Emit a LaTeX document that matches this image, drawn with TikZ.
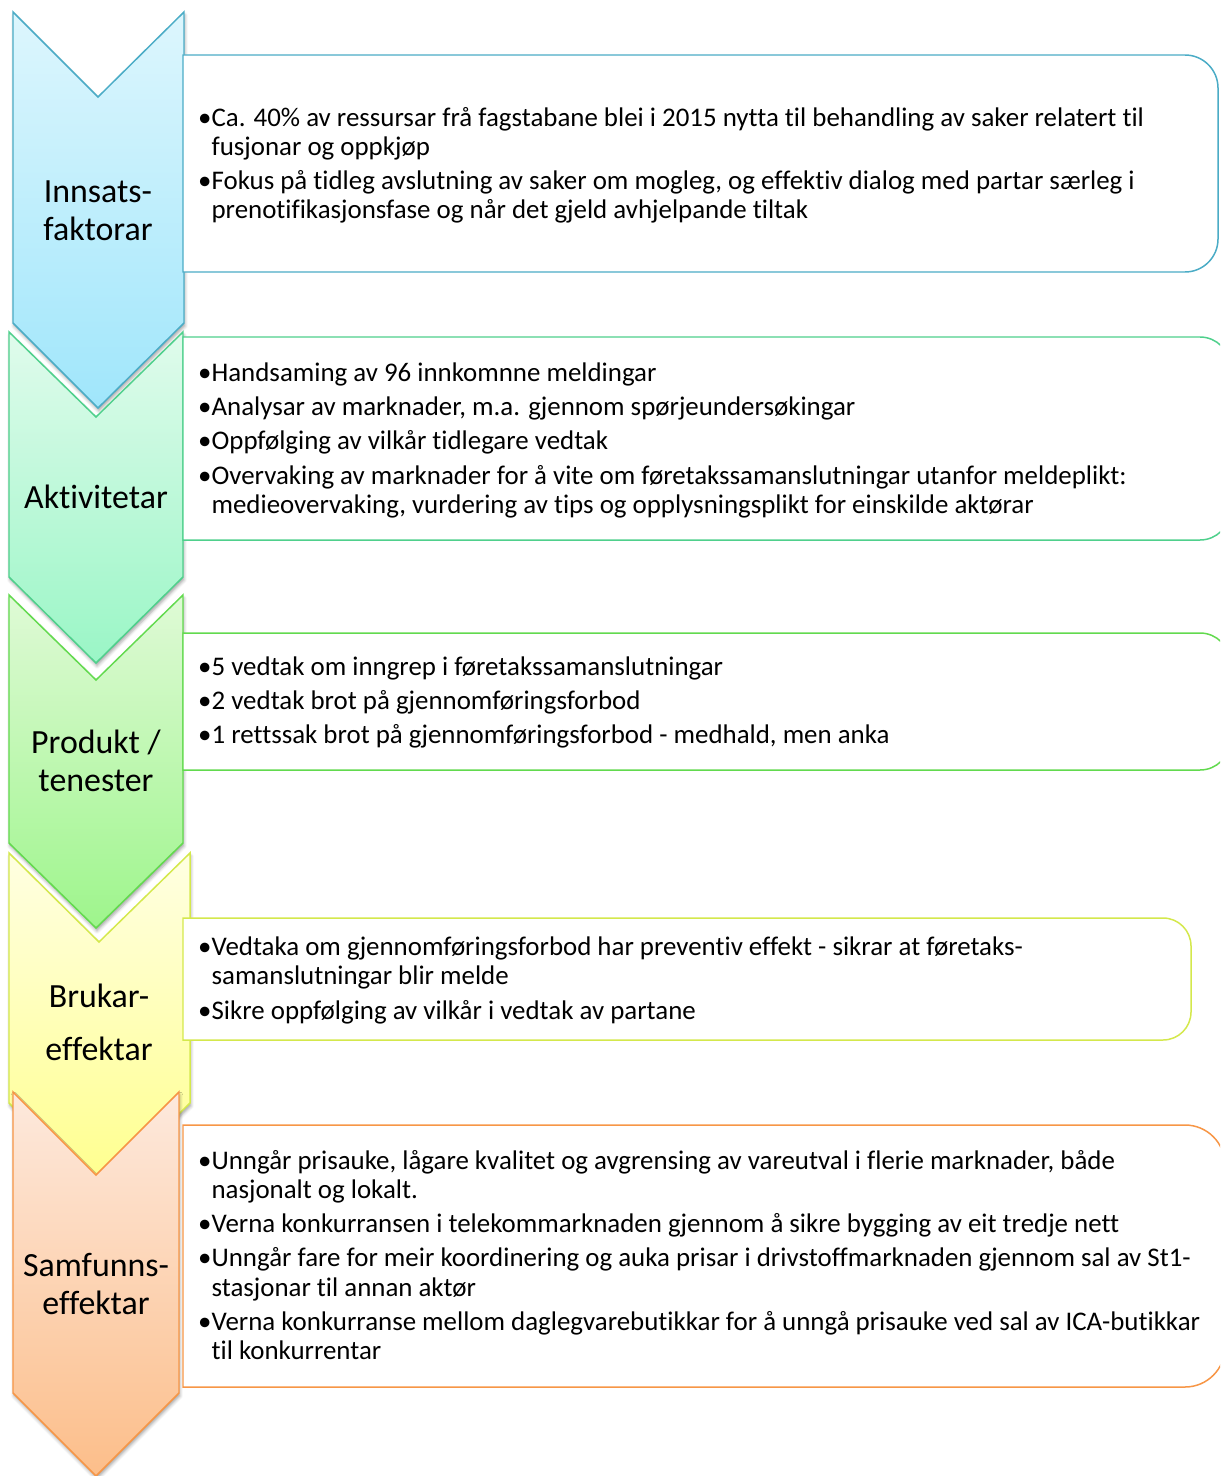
\documentclass[tikz,border=0pt]{standalone}
\usepackage{fontspec}
\setmainfont{Carlito}[Ligatures=NoCommon]
\usetikzlibrary{shadows.blur}
\definecolor{blueB}{HTML}{4BACC6}\definecolor{blueT}{HTML}{DDF6FD}\definecolor{blueL}{HTML}{A0E6FB}
\definecolor{tealB}{HTML}{4FD08C}\definecolor{tealT}{HTML}{E0FBEC}\definecolor{tealL}{HTML}{9AF6C6}
\definecolor{grnB}{HTML}{62DA4E}\definecolor{grnT}{HTML}{DFFAD6}\definecolor{grnL}{HTML}{9EF58C}
\definecolor{yelB}{HTML}{D4E84C}\definecolor{yelT}{HTML}{FFFFE2}\definecolor{yelL}{HTML}{FFFF8C}
\definecolor{orgB}{HTML}{F79646}\definecolor{orgT}{HTML}{FDE9DD}\definecolor{orgL}{HTML}{FCBE8A}
\tikzset{
  chev/.style n args={3}{draw=#1, line width=1.5pt, top color=#2, bottom color=#3,
     blur shadow={shadow xshift=1pt, shadow yshift=-3pt, shadow blur radius=3pt, shadow opacity=35}},
  tbox/.style={draw=#1, line width=1.5pt, fill=white},
  ln/.style={anchor=base west, inner sep=0pt, font=\fontsize{27}{29}\selectfont},
  lab/.style={align=center, inner sep=0pt, font=\fontsize{34}{38}\selectfont}
}
\newcommand\bul{\textbullet}
\newcommand\ind{\phantom{\textbullet}}
\begin{document}
\begin{tikzpicture}[x=1bp,y=-1bp]
\useasboundingbox (0,0) rectangle (1220,1476);
\clip (0,0) rectangle (1220,1476);
% chevrons
\path[chev={blueB}{blueT}{blueL}] (13,12) -- (98,97) -- (184,12) -- (184,323) -- (98,408) -- (13,323) -- cycle;
\path[chev={tealB}{tealT}{tealL}] (9,332) -- (96,417) -- (183,332) -- (183,577) -- (96,663) -- (9,577) -- cycle;
\path[chev={grnB}{grnT}{grnL}] (9,595) -- (96,680) -- (183,595) -- (183,843) -- (96,928) -- (9,843) -- cycle;
\path[chev={yelB}{yelT}{yelL}] (9,853) -- (99,942) -- (190,853) -- (190,1103) -- (99,1192) -- (9,1103) -- cycle;
\path[chev={orgB}{orgT}{orgL}] (13,1092) -- (96,1175) -- (179,1092) -- (179,1393) -- (96,1476) -- (13,1393) -- cycle;
% text boxes
\draw[tbox=blueB] (183,55) -- (1185,55) arc[start angle=-90,end angle=0,radius=33] -- (1218,239) arc[start angle=0,end angle=90,radius=33] -- (183,272) -- cycle;
\draw[tbox=tealB] (183,337) -- (1200,337) arc[start angle=-90,end angle=0,radius=30] -- (1230,510) arc[start angle=0,end angle=90,radius=30] -- (183,540) -- cycle;
\draw[tbox=grnB] (183,633) -- (1200,633) arc[start angle=-90,end angle=0,radius=30] -- (1230,740) arc[start angle=0,end angle=90,radius=30] -- (183,770) -- cycle;
\draw[tbox=yelB] (183,918) -- (1163,918) arc[start angle=-90,end angle=0,radius=28] -- (1191,1012) arc[start angle=0,end angle=90,radius=28] -- (183,1040) -- cycle;
\draw[tbox=orgB] (183,1125) -- (1185,1125) arc[start angle=-90,end angle=0,radius=40] -- (1225,1347) arc[start angle=0,end angle=90,radius=40] -- (183,1387) -- cycle;
% labels
\node[lab] (l1) at (98,211) {Innsats-\\faktorar};
\node[lab] (l2) at (96,497) {Aktivitetar};
\node[lab] (l3) at (96,761) {Produkt /\\tenester};
\node[lab, font=\fontsize{34}{53}\selectfont] (l4) at (99,1022) {Brukar-\\effektar};
\node[lab] (l5) at (96,1284) {Samfunns-\\effektar};
% box 1
\node[ln] (a1) at (198,127) {\bul Ca. 40\% av ressursar frå fagstabane blei i 2015 nytta til behandling av saker relatert til};
\node[ln] (a2) at (198,156) {\ind fusjonar og oppkjøp};
\node[ln] (a3) at (198,190) {\bul Fokus på tidleg avslutning av saker om mogleg, og effektiv dialog med partar særleg i};
\node[ln] (a4) at (198,219) {\ind prenotifikasjonsfase og når det gjeld avhjelpande tiltak};
% box 2
\node[ln] (b1) at (198,381) {\bul Handsaming av 96 innkomnne meldingar};
\node[ln] (b2) at (198,415) {\bul Analysar av marknader, m.a. gjennom spørjeundersøkingar};
\node[ln] (b3) at (198,449) {\bul Oppfølging av vilkår tidlegare vedtak};
\node[ln] (b4) at (198,484) {\bul Overvaking av marknader for å vite om føretakssamanslutningar utanfor meldeplikt:};
\node[ln] (b5) at (198,513) {\ind medieovervaking, vurdering av tips og opplysningsplikt for einskilde aktørar};
% box 3
\node[ln] (c1) at (198,675) {\bul 5 vedtak om inngrep i føretakssamanslutningar};
\node[ln] (c2) at (198,709) {\bul 2 vedtak brot på gjennomføringsforbod};
\node[ln] (c3) at (198,743) {\bul 1 rettssak brot på gjennomføringsforbod - medhald, men anka};
% box 4
\node[ln] (d1) at (198,955) {\bul Vedtaka om gjennomføringsforbod har preventiv effekt - sikrar at føretaks-};
\node[ln] (d2) at (198,984) {\ind samanslutningar blir melde};
\node[ln] (d3) at (198,1019) {\bul Sikre oppfølging av vilkår i vedtak av partane};
% box 5
\node[ln] (e1) at (198,1169) {\bul Unngår prisauke, lågare kvalitet og avgrensing av vareutval i flerie marknader, både};
\node[ln] (e2) at (198,1198) {\ind nasjonalt og lokalt.};
\node[ln] (e3) at (198,1232) {\bul Verna konkurransen i telekommarknaden gjennom å sikre bygging av eit tredje nett};
\node[ln] (e4) at (198,1266) {\bul Unngår fare for meir koordinering og auka prisar i drivstoffmarknaden gjennom sal av St1-};
\node[ln] (e5) at (198,1296) {\ind stasjonar til annan aktør};
\node[ln] (e6) at (198,1330) {\bul Verna konkurranse mellom daglegvarebutikkar for å unngå prisauke ved sal av ICA-butikkar};
\node[ln] (e7) at (198,1359) {\ind til konkurrentar};
\end{tikzpicture}
\end{document}
